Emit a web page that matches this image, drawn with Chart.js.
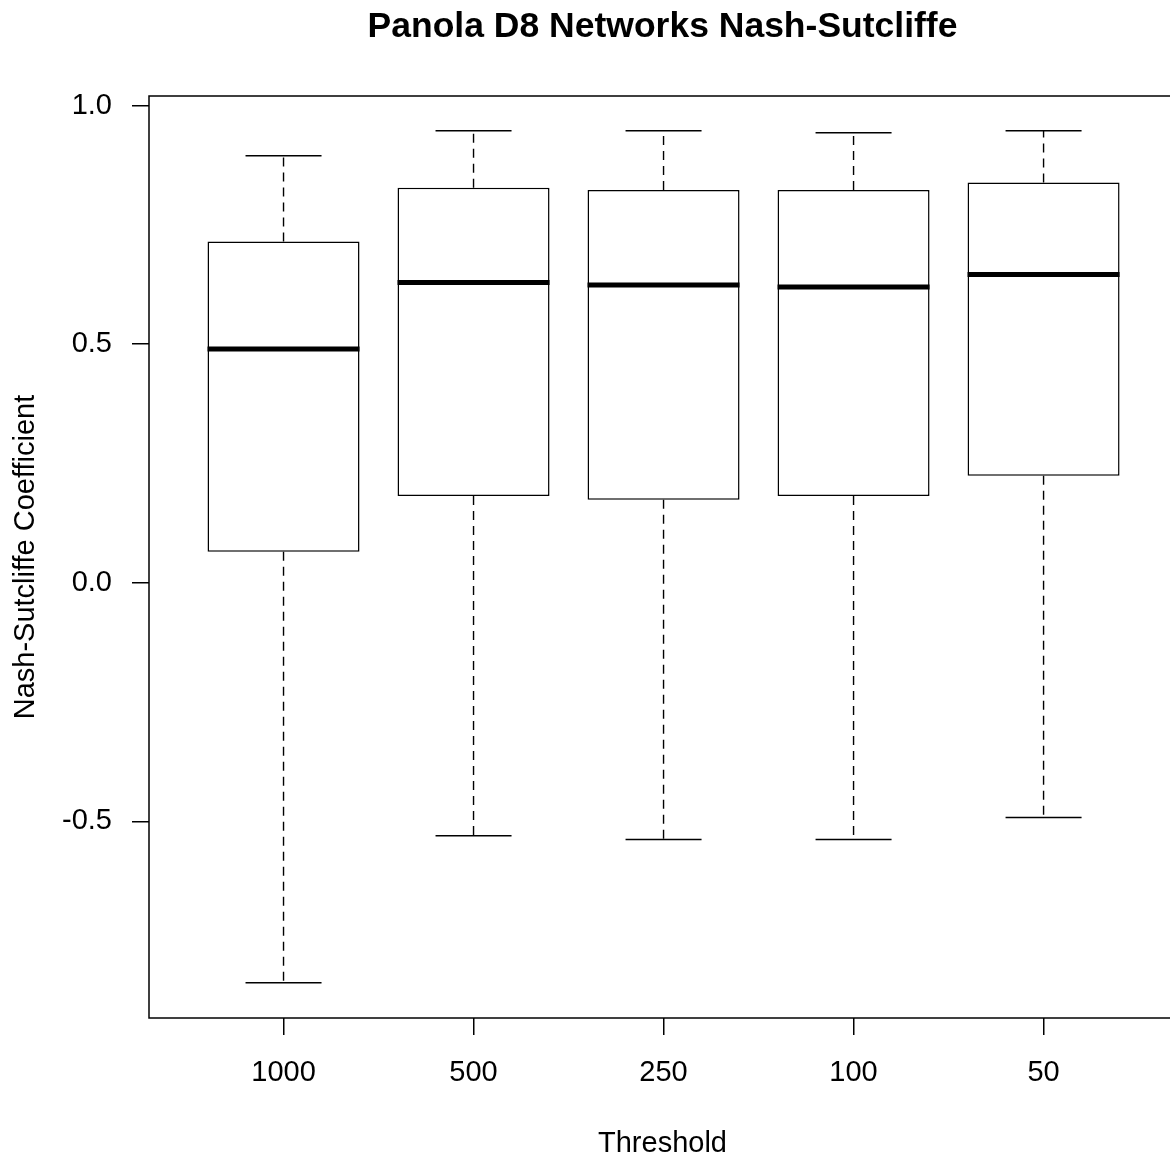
<!DOCTYPE html>
<html>
<head>
<meta charset="utf-8">
<script src="https://cdn.jsdelivr.net/npm/chart.js@4/dist/chart.umd.min.js"></script>
<style>
  html, body { margin: 0; padding: 0; overflow: hidden; background: #fff; }
  #wrap { width: 1325px; height: 1162px; }
</style>
</head>
<body>
<div id="wrap"><canvas id="c" width="1325" height="1162"></canvas></div>
<script>
// ---- data ----
const categories   = ['1000', '500', '250', '100', '50'];
const lowerWhisker = [-0.838, -0.530, -0.538, -0.538, -0.492];
const q1           = [0.065, 0.182, 0.174, 0.182, 0.224];
const median       = [0.490, 0.629, 0.624, 0.620, 0.646];
const q3           = [0.715, 0.828, 0.823, 0.823, 0.839];
const upperWhisker = [0.895, 0.947, 0.947, 0.943, 0.947];
const yTicks       = [-0.5, 0.0, 0.5, 1.0];
const titleText    = 'Panola D8 Networks Nash-Sutcliffe';
const xTitle       = 'Threshold';
const yTitle       = 'Nash-Sutcliffe Coefficient';
const yMin = -0.912, yMax = 1.020;
const xMin = 0.292, xMax = 5.697;

const FONT = "'Liberation Sans', Arial, Helvetica, sans-serif";

const boxData = categories.map((c, i) => ({ x: i + 1, y: [q1[i], q3[i]] }));

const boxPlugin = {
  id: 'boxExtras',
  afterDatasetsDraw(chart) {
    const ctx = chart.ctx;
    const xs = chart.scales.x, ys = chart.scales.y;
    const meta = chart.getDatasetMeta(0);
    ctx.save();
    ctx.strokeStyle = '#000';
    for (let i = 0; i < categories.length; i++) {
      const cx = xs.getPixelForValue(i + 1);
      const bw = meta.data[i].width;
      const half = bw / 2;
      // whiskers (dashed)
      ctx.lineWidth = 1.4;
      ctx.setLineDash([9, 6]);
      ctx.beginPath();
      ctx.moveTo(cx, ys.getPixelForValue(q3[i]));
      ctx.lineTo(cx, ys.getPixelForValue(upperWhisker[i]));
      ctx.moveTo(cx, ys.getPixelForValue(q1[i]));
      ctx.lineTo(cx, ys.getPixelForValue(lowerWhisker[i]));
      ctx.stroke();
      ctx.setLineDash([]);
      // caps
      ctx.lineWidth = 1.5;
      ctx.beginPath();
      const uy = ys.getPixelForValue(upperWhisker[i]);
      const ly = ys.getPixelForValue(lowerWhisker[i]);
      ctx.moveTo(cx - half / 2, uy); ctx.lineTo(cx + half / 2, uy);
      ctx.moveTo(cx - half / 2, ly); ctx.lineTo(cx + half / 2, ly);
      ctx.stroke();
      // median
      ctx.lineWidth = 5;
      ctx.lineCap = 'butt';
      ctx.beginPath();
      const my = ys.getPixelForValue(median[i]);
      ctx.moveTo(cx - half, my); ctx.lineTo(cx + half, my);
      ctx.stroke();
    }
    // frame
    const a = chart.chartArea;
    ctx.lineWidth = 1.5;
    ctx.strokeRect(a.left, a.top, a.right - a.left, a.bottom - a.top);
    ctx.restore();
  }
};

new Chart(document.getElementById('c'), {
  type: 'bar',
  data: {
    datasets: [{
      data: boxData,
      backgroundColor: '#ffffff',
      borderColor: '#000000',
      borderWidth: 1.5,
      borderSkipped: false,
      barPercentage: 0.8,
      categoryPercentage: 1.0
    }]
  },
  options: {
    responsive: false,
    animation: false,
    events: [],
    layout: { padding: { left: 0, right: 149, top: 0, bottom: 0 } },
    plugins: {
      legend: { display: false },
      tooltip: { enabled: false },
      title: {
        display: true,
        fullSize: false,
        text: titleText,
        color: '#000',
        font: { family: FONT, size: 35.5, weight: 'bold', lineHeight: 1.2 },
        padding: { top: 6, bottom: 47.4 }
      }
    },
    scales: {
      x: {
        type: 'linear',
        min: xMin, max: xMax,
        offset: false,
        afterFit: s => { s.height = 144; },
        afterBuildTicks: s => { s.ticks = categories.map((c, i) => ({ value: i + 1 })); },
        ticks: {
          color: '#000',
          padding: 21,
          maxRotation: 0,
          autoSkip: false,
          font: { family: FONT, size: 29 },
          callback: (v) => categories[Math.round(v) - 1]
        },
        grid: { display: true, offset: false, drawOnChartArea: false, drawTicks: true, tickLength: 17, color: '#000', lineWidth: 1.5 },
        border: { display: false },
        title: {
          display: true, text: xTitle, color: '#000',
          font: { family: FONT, size: 29 },
          padding: { top: 0, bottom: 1 }
        }
      },
      y: {
        type: 'linear',
        min: yMin, max: yMax,
        afterFit: s => { s.width = 149; },
        afterBuildTicks: s => { s.ticks = yTicks.map(v => ({ value: v })); },
        ticks: {
          color: '#000',
          padding: 20,
          font: { family: FONT, size: 29 },
          callback: (v) => Number(v).toFixed(1)
        },
        grid: { display: true, drawOnChartArea: false, drawTicks: true, tickLength: 17, color: '#000', lineWidth: 1.5 },
        border: { display: false },
        title: {
          display: true, text: yTitle, color: '#000',
          font: { family: FONT, size: 29 },
          padding: { top: 9, bottom: 0 }
        }
      }
    }
  },
  plugins: [boxPlugin]
});
</script>
</body>
</html>
